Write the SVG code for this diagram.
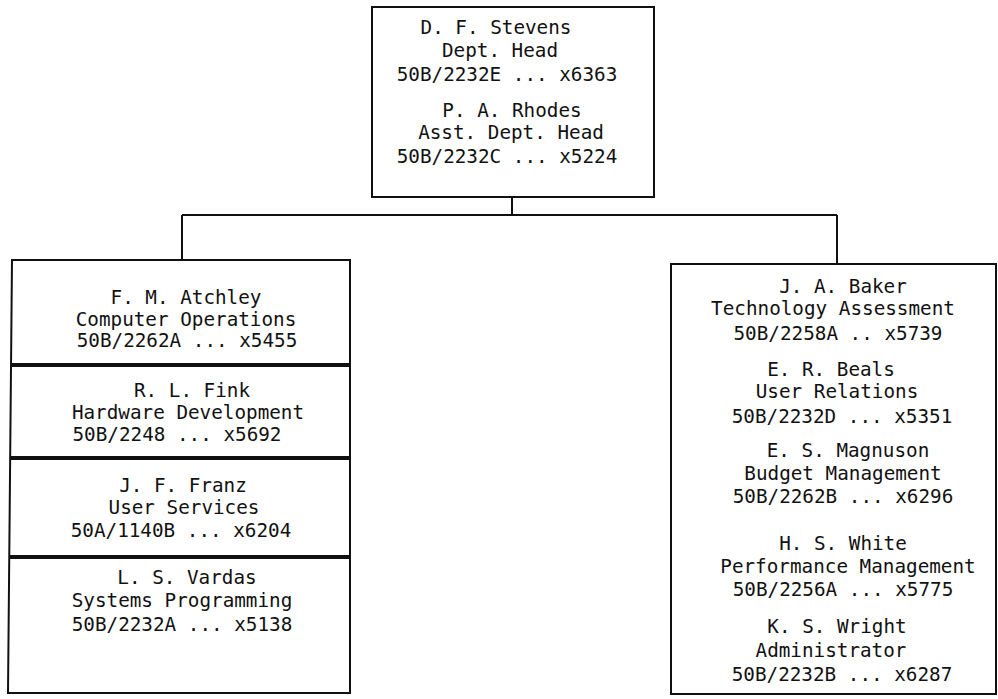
<svg xmlns="http://www.w3.org/2000/svg" width="998" height="699" viewBox="0 0 998 699">
<style>
.box{fill:none;stroke:#111;stroke-width:2}
.div{stroke:#111;stroke-width:4}
.con{fill:none;stroke:#111;stroke-width:2}
text{font-family:"DejaVu Sans Mono","Liberation Mono",monospace;font-size:19.3px;fill:#111;text-anchor:middle}
</style>
<rect width="998" height="699" fill="#fff"/>
<g id="connectors">
<path class="con" d="M512,197 V215 M182,215 H837 M182,215 V260 M837,215 V264"/>
</g>
<g id="head">
<rect class="box" x="372" y="7" width="282" height="190"/>
<text x="496" y="34">D. F. Stevens</text>
<text x="500" y="57">Dept. Head</text>
<text x="507" y="81">50B/2232E ... x6363</text>
<text x="512" y="117">P. A. Rhodes</text>
<text x="511" y="139">Asst. Dept. Head</text>
<text x="507" y="163">50B/2232C ... x5224</text>
</g>
<g id="left">
<path class="box" d="M12,260 H350 V693 H8 Z"/>
<line class="div" x1="11" y1="365" x2="350" y2="365"/>
<line class="div" x1="10" y1="458" x2="350" y2="458"/>
<line class="div" x1="10" y1="557" x2="350" y2="557"/>
<g id="atchley">
<text x="186" y="304">F. M. Atchley</text>
<text x="186" y="326">Computer Operations</text>
<text x="187" y="347">50B/2262A ... x5455</text>
</g>
<g id="fink">
<text x="192" y="397">R. L. Fink</text>
<text x="188" y="419">Hardware Development</text>
<text x="177" y="441">50B/2248 ... x5692</text>
</g>
<g id="franz">
<text x="183" y="492">J. F. Franz</text>
<text x="184" y="514">User Services</text>
<text x="181" y="537">50A/1140B ... x6204</text>
</g>
<g id="vardas">
<text x="187" y="584">L. S. Vardas</text>
<text x="182" y="607">Systems Programming</text>
<text x="182" y="631">50B/2232A ... x5138</text>
</g>
</g>
<g id="right">
<rect class="box" x="671" y="264" width="325" height="430"/>
<g id="baker">
<text x="843" y="293">J. A. Baker</text>
<text x="833" y="315">Technology Assessment</text>
<text x="838" y="340">50B/2258A .. x5739</text>
</g>
<g id="beals">
<text x="831" y="376">E. R. Beals</text>
<text x="837" y="398">User Relations</text>
<text x="842" y="423">50B/2232D ... x5351</text>
</g>
<g id="magnuson">
<text x="848" y="457">E. S. Magnuson</text>
<text x="843" y="480">Budget Management</text>
<text x="843" y="503">50B/2262B ... x6296</text>
</g>
<g id="white">
<text x="843" y="550">H. S. White</text>
<text x="848" y="573">Performance Management</text>
<text x="843" y="596">50B/2256A ... x5775</text>
</g>
<g id="wright">
<text x="837" y="633">K. S. Wright</text>
<text x="831" y="657">Administrator</text>
<text x="842" y="681">50B/2232B ... x6287</text>
</g>
</g>
</svg>
